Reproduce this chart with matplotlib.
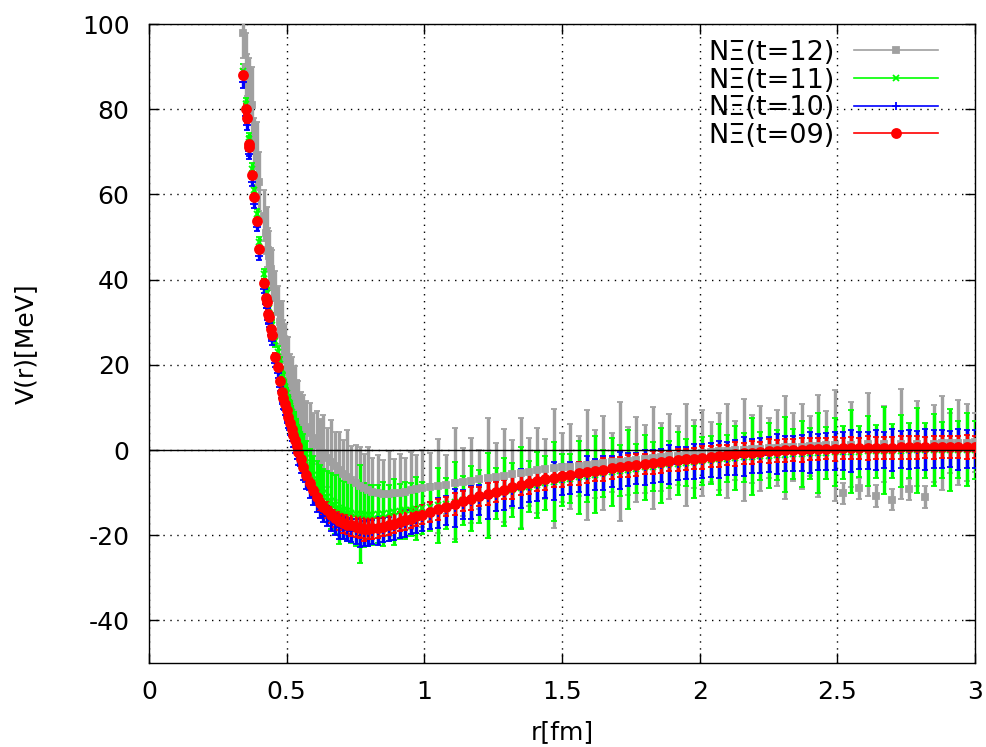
import numpy as np
import matplotlib
matplotlib.use("Agg")
import matplotlib.pyplot as plt
from matplotlib.lines import Line2D

plt.rcParams['font.family'] = ['DejaVu Sans']
plt.rcParams['axes.unicode_minus'] = False

# distance r [fm], shared by all four time slices
r_fm = [
    0.340, 0.352, 0.355, 0.362, 0.364, 0.373, 0.383, 0.391, 0.401, 0.418, 0.425, 0.428, 0.433, 0.436, 0.442, 0.446,
    0.458, 0.470, 0.476, 0.482, 0.488, 0.494, 0.500, 0.506, 0.512, 0.518, 0.524, 0.530, 0.536, 0.542, 0.551, 0.560,
    0.572, 0.585, 0.597, 0.609, 0.621, 0.633, 0.645, 0.660, 0.675, 0.690, 0.705, 0.720, 0.735, 0.750,
    0.765, 0.780, 0.795, 0.810, 0.830, 0.850, 0.870, 0.890, 0.910, 0.930, 0.950, 0.970, 0.990,
    1.02, 1.05, 1.08, 1.11, 1.14, 1.17, 1.20, 1.23, 1.26, 1.29, 1.32, 1.35, 1.38, 1.41, 1.44, 1.47, 1.50,
    1.53, 1.56, 1.59, 1.62, 1.65, 1.68, 1.71, 1.74, 1.77, 1.80, 1.83, 1.86, 1.89, 1.92, 1.95, 1.98, 2.01,
    2.04, 2.07, 2.10, 2.13, 2.16, 2.19, 2.22, 2.25, 2.28, 2.31, 2.34, 2.37, 2.40, 2.43, 2.46, 2.49, 2.52,
    2.55, 2.58, 2.61, 2.64, 2.67, 2.70, 2.73, 2.76, 2.79, 2.82, 2.85, 2.88, 2.91, 2.94, 2.97, 3.00]

# t=12 (gray)
v_t12 = [
    98.0, 90.0, 88.0, 85.0, 84.0, 81.0, 72.0, 69.0, 63.0, 55.0, 51.0, 50.0, 47.0, 45.5, 42.5, 41.0,
    37.0, 32.5, 30.0, 28.0, 25.5, 23.5, 21.5, 19.5, 17.5, 15.8, 14.2, 12.8, 11.5, 10.2, 8.5, 7.0,
    5.5, 4.0, 2.8, 1.2, 0.2, -0.8, -1.8, -2.9, -3.8, -4.8, -5.6, -6.4, -7.1, -7.8,
    -8.4, -9.0, -9.4, -9.8, -10.1, -10.3, -10.3, -10.2, -10.0, -9.8, -9.5, -9.2, -9.0,
    -8.7, -8.4, -8.1, -7.8, -7.5, -7.2, -6.9, -6.6, -6.3, -6.0, -5.7, -5.4, -5.1, -4.8, -4.5, -4.3, -4.1,
    -3.9, -3.7, -3.5, -3.3, -3.1, -2.9, -2.7, -2.5, -2.3, -2.1, -1.9, -1.7, -1.5, -1.3, -1.1, -0.9, -0.7,
    -0.5, -0.3, -0.2, -0.1, 0.0, 0.2, 0.3, 0.4, 0.5, 0.6, 0.7, 0.8, 0.9, 1.0, 1.1, 1.1, -10.2,
    1.2, -9.0, 1.3, -10.8, 1.4, -11.7, 1.4, -9.2, 1.5, -11.0, 1.5, 1.6, 1.6, 1.7, 1.7, 1.8]
err_t12 = [
    6, 8, 5, 7, 6, 9, 6, 8, 7, 6, 5, 7, 5, 6, 5, 6,
    5, 6, 5, 7, 5, 6, 5, 7, 5, 6, 5, 7, 5, 6, 5, 6,
    6, 7, 6, 8, 7, 9, 7, 10, 8, 9, 8, 11, 8, 9,
    9, 8, 10, 8, 9, 8, 10, 8, 9, 8, 9, 8, 9,
    8, 11, 7, 13, 8, 10, 7, 14, 8, 11, 8, 13, 8, 10, 7, 14, 8,
    10, 7, 13, 8, 11, 7, 14, 8, 10, 8, 12, 8, 10, 7, 12, 8, 10,
    7, 9, 11, 7, 12, 8, 10, 7, 9, 12, 8, 10, 7, 12, 8, 13, 2.5,
    10, 2.5, 12, 2.5, 9, 2.5, 13, 2.5, 10, 2.5, 9, 11, 7, 10, 9, 7]

# t=11 (green)
v_t11 = [
    89.0, 81.2, 79.0, 73.0, 72.4, 66.0, 61.0, 55.4, 48.8, 41.3, 37.8, 36.8, 34.2, 33.4, 30.8, 29.3,
    25.5, 23.0, 20.2, 17.8, 16.2, 14.8, 13.4, 11.9, 10.4, 9.0, 7.6, 6.3, 4.9, 3.5, 1.7, 0.0,
    -1.9, -4.0, -5.9, -7.5, -8.9, -10.0, -11.0, -12.0, -12.8, -13.5, -14.0, -14.4, -14.7, -15.0,
    -15.1, -15.3, -15.3, -15.2, -15.1, -15.0, -14.8, -14.6, -14.4, -14.2, -14.0, -13.8, -13.6,
    -13.4, -13.0, -12.6, -12.2, -11.8, -11.4, -11.0, -10.6, -10.2, -9.8, -9.4, -9.0, -8.6, -8.2, -7.8, -7.4, -7.0,
    -6.7, -6.4, -6.1, -5.8, -5.5, -5.2, -4.9, -4.6, -4.4, -4.1, -3.9, -3.6, -3.4, -3.2, -3.0, -2.8, -2.6,
    -2.4, -2.2, -2.0, -1.9, -1.7, -1.6, -1.4, -1.3, -1.2, -1.1, -1.0, -0.9, -0.8, -0.7, -0.6, -0.5, -0.5,
    -0.4, -0.4, -0.3, -0.3, -0.2, -0.2, -0.2, -0.1, -0.1, -0.1, 0.0, 0.0, 0.0, 0.1, 0.1, 0.1]
err_t11 = [
    1.5, 1.5, 1.4, 1.4, 1.3, 1.3, 1.3, 1.2, 1.2, 1.2, 1.2, 1.2, 1.2, 1.3, 1.3, 1.3,
    1.4, 1.5, 1.6, 1.7, 1.8, 2.0, 2.1, 2.3, 2.4, 2.6, 2.8, 3.0, 3.2, 3.4, 3.6, 3.8,
    4.0, 4.3, 4.6, 5.0, 5.3, 5.6, 6.0, 6.5, 7.0, 8.5, 6.8, 7.0, 7.2, 7.5,
    11.5, 7.5, 7.2, 7.0, 6.8, 7.5, 6.5, 7.8, 6.4, 6.8, 6.3, 7.4, 6.2,
    5.5, 8.8, 6.0, 9.5, 5.8, 7.6, 6.2, 10.0, 5.9, 8.0, 6.3, 9.6, 6.0, 7.8, 6.4, 9.2, 6.1,
    5.8, 8.6, 6.0, 9.0, 5.6, 7.9, 6.0, 9.3, 5.7, 7.6, 5.8, 8.8, 5.6, 7.4, 5.5, 8.5, 5.6,
    5.6, 8.4, 5.5, 7.6, 5.8, 9.0, 5.7, 7.7, 5.8, 8.8, 5.9, 7.8, 6.0, 9.4, 6.1, 7.9, 6.2,
    9.8, 6.0, 8.2, 6.2, 10.2, 6.3, 8.4, 6.4, 10.0, 6.5, 8.5, 6.6, 9.6, 6.6, 8.6, 6.8]

# t=10 (blue)
v_t10 = [
    86.5, 78.5, 76.3, 70.2, 69.6, 63.0, 57.8, 52.3, 45.6, 37.9, 34.3, 33.4, 30.6, 29.9, 27.1, 25.6,
    20.5, 18.0, 14.9, 12.3, 10.7, 9.3, 7.9, 6.3, 4.8, 3.4, 2.0, 0.7, -0.7, -2.0, -3.8, -5.5,
    -7.5, -9.4, -11.0, -12.5, -13.8, -14.7, -15.5, -16.5, -17.3, -18.0, -18.4, -18.7, -18.9, -19.1,
    -19.3, -19.6, -19.5, -19.3, -19.1, -18.8, -18.5, -18.1, -17.7, -17.3, -16.9, -16.4, -16.0,
    -15.4, -14.8, -14.2, -13.6, -12.9, -12.3, -11.8, -11.3, -10.7, -10.2, -9.6, -9.1, -8.6, -8.1, -7.7, -7.3, -6.9,
    -6.6, -6.3, -6.0, -5.7, -5.4, -5.1, -4.8, -4.6, -4.3, -4.1, -3.8, -3.6, -3.4, -3.2, -3.0, -2.8, -2.6,
    -2.4, -2.2, -2.0, -1.8, -1.6, -1.4, -1.3, -1.1, -1.0, -0.9, -0.8, -0.7, -0.6, -0.5, -0.4, -0.3, -0.2,
    -0.2, -0.1, -0.1, 0.0, 0.0, 0.0, 0.1, 0.1, 0.1, 0.1, 0.2, 0.2, 0.2, 0.2, 0.2, 0.3]
err_t10 = [
    1.5, 1.3, 1.3, 1.2, 1.2, 1.1, 1.1, 1.0, 1.0, 1.0, 1.0, 1.0, 1.0, 1.0, 1.0, 1.0,
    1.0, 1.0, 1.1, 1.1, 1.1, 1.2, 1.2, 1.2, 1.3, 1.3, 1.3, 1.4, 1.4, 1.5, 1.5, 1.6,
    1.7, 1.8, 1.9, 2.0, 2.1, 2.2, 2.3, 2.4, 2.6, 2.8, 2.6, 2.7, 2.8, 2.9,
    3.4, 2.9, 3.0, 2.8, 3.3, 2.9, 2.8, 3.0, 2.9, 3.2, 2.9, 3.0, 3.1,
    3.2, 3.6, 3.3, 4.5, 3.4, 3.8, 3.5, 4.8, 3.6, 3.9, 3.5, 4.6, 3.7, 3.8, 3.6, 4.4, 3.7,
    3.8, 3.6, 4.5, 3.7, 3.9, 3.6, 4.4, 3.8, 3.7, 4.2, 3.9, 3.8, 4.5, 3.9, 3.8, 4.1, 4.0,
    4.0, 4.4, 3.9, 4.1, 4.6, 4.0, 4.2, 4.1, 4.7, 4.1, 4.2, 4.3, 4.8, 4.2, 4.3, 4.5, 4.4,
    4.9, 4.3, 4.4, 4.6, 4.3, 5.0, 4.4, 4.5, 4.3, 4.9, 4.4, 4.5, 4.3, 4.8, 4.4, 4.5]

# t=09 (red)
v_t09 = [
    88.0, 80.0, 77.9, 71.8, 71.2, 64.6, 59.5, 53.8, 47.1, 39.3, 35.7, 34.8, 32.0, 31.3, 28.5, 27.0,
    21.9, 19.4, 16.3, 13.7, 12.1, 10.8, 9.4, 7.8, 6.3, 4.9, 3.6, 2.3, 0.9, -0.4, -2.2, -3.9,
    -5.9, -7.8, -9.5, -11.0, -12.4, -13.3, -14.1, -15.2, -16.0, -16.7, -17.2, -17.5, -17.7, -18.0,
    -18.2, -18.6, -18.5, -18.4, -18.3, -18.0, -17.7, -17.3, -16.8, -16.5, -16.1, -15.6, -15.2,
    -14.5, -13.9, -13.3, -12.7, -12.0, -11.4, -10.9, -10.4, -9.8, -9.3, -8.8, -8.3, -7.8, -7.3, -6.9, -6.5, -6.1,
    -5.8, -5.5, -5.2, -4.9, -4.6, -4.3, -4.0, -3.8, -3.5, -3.3, -3.0, -2.8, -2.6, -2.4, -2.2, -2.0, -1.8,
    -1.6, -1.4, -1.2, -1.0, -0.8, -0.6, -0.5, -0.3, -0.2, -0.1, 0.0, 0.1, 0.2, 0.2, 0.3, 0.3, 0.4,
    0.4, 0.4, 0.5, 0.5, 0.5, 0.5, 0.6, 0.6, 0.6, 0.6, 0.6, 0.7, 0.7, 0.7, 0.7, 0.7]
err_t09 = [
    1.5, 1.2, 1.2, 1.0, 1.0, 1.0, 0.9, 0.9, 0.9, 0.8, 0.8, 0.8, 0.8, 0.8, 0.8, 0.8,
    0.8, 0.8, 0.8, 0.9, 0.9, 0.9, 0.9, 1.0, 1.0, 1.0, 1.0, 1.0, 1.0, 1.1, 1.1, 1.1,
    1.2, 1.3, 1.4, 1.5, 1.6, 1.7, 1.8, 1.9, 2.0, 2.1, 2.2, 2.3, 2.4, 2.4,
    2.5, 2.8, 2.5, 2.4, 2.4, 2.3, 2.3, 2.2, 2.2, 2.2, 2.2, 2.2, 2.2,
    2.3, 2.5, 2.3, 2.6, 2.3, 2.7, 2.3, 2.6, 2.4, 2.3, 2.6, 2.3, 2.5, 2.3, 2.6, 2.3, 2.5,
    2.4, 2.6, 2.5, 2.4, 2.7, 2.5, 2.4, 2.6, 2.5, 2.4, 2.7, 2.5, 2.4, 2.6, 2.5, 2.4, 2.7,
    2.5, 2.6, 2.4, 2.8, 2.5, 2.6, 2.4, 2.8, 2.5, 2.6, 2.5, 2.8, 2.5, 2.6, 2.5, 2.8, 2.5,
    2.6, 2.5, 2.8, 2.5, 2.6, 2.5, 2.8, 2.6, 2.6, 2.5, 2.8, 2.6, 2.6, 2.5, 2.8, 2.6]

labels = ['N\u039e(t=12)', 'N\u039e(t=11)', 'N\u039e(t=10)', 'N\u039e(t=09)']
colors = ['#a0a0a0', '#00ff00', '#0000ff', '#ff0000']
markers = ['s', 'x', '+', 'o']
msizes = [5, 5, 6, 6.5]

fig = plt.figure(figsize=(9.86, 7.47), dpi=100)
ax = fig.add_axes([149/986, 84/747, 826/986, 639/747])

series = [(v_t12, err_t12), (v_t11, err_t11), (v_t10, err_t10), (v_t09, err_t09)]
for (v, e), c, m, ms in zip(series, colors, markers, msizes):
    # thick bars so the dense lattice points blend into a band, as in gnuplot output
    ax.errorbar(r_fm, v, yerr=e, fmt=m, color=c, ms=ms, mew=1.3,
                elinewidth=2.4, capsize=2, capthick=1.2, zorder=3)

ax.axhline(0, color='black', lw=1.0, zorder=5)  # zero axis in front, like gnuplot

ax.set_xlim(0, 3)
ax.set_ylim(-50, 100)
ax.set_xticks([0, 0.5, 1, 1.5, 2, 2.5, 3])
ax.set_xticklabels(['0', '0.5', '1', '1.5', '2', '2.5', '3'])
ax.set_yticks([-40, -20, 0, 20, 40, 60, 80, 100])
ax.grid(True, color='black', linestyle=(0, (1, 4)), lw=1.0, zorder=0)
ax.set_axisbelow(True)

ax.tick_params(direction='in', length=7, width=1.0, top=True, right=True, labelsize=18)
ax.tick_params(axis='x', pad=12)
ax.tick_params(axis='y', pad=14)
for s in ax.spines.values():
    s.set_linewidth(1.0)

ax.set_xlabel('r[fm]', fontsize=18)
ax.set_ylabel('V(r)[MeV]', fontsize=18)
ax.xaxis.set_label_coords(0.5, -0.09)
ax.yaxis.set_label_coords(-0.134, 0.5)

handles = [Line2D([], [], color=c, marker=m, ms=ms, mew=1.3, lw=1.2)
           for c, m, ms in zip(colors, markers, msizes)]
ax.legend(handles, labels, loc='upper right', bbox_to_anchor=(0.955, 0.975),
          frameon=False, markerfirst=False, fontsize=19.5, handlelength=3.1,
          handletextpad=0.7, labelspacing=0.06, borderpad=0, borderaxespad=0,
          numpoints=1)

fig.savefig('out.png', dpi=100)
